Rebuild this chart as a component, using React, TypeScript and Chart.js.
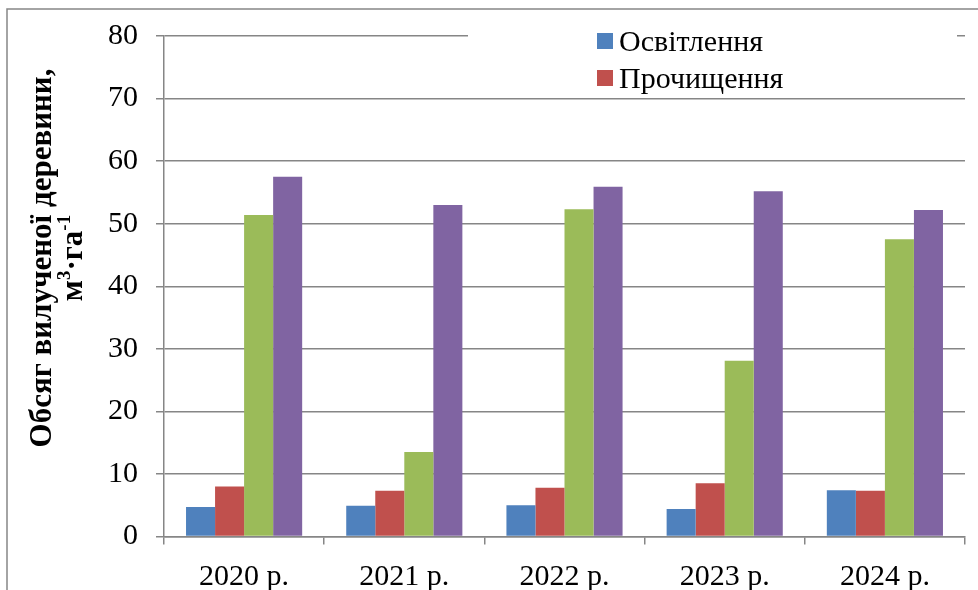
import React, { useEffect, useRef } from "react";
import { Chart, registerables } from "chart.js";

Chart.register(...registerables);

const categories = ["2020 р.", "2021 р.", "2022 р.", "2023 р.", "2024 р."];
const osvitlennya = [4.7, 4.9, 5.0, 4.4, 7.4];
const prochyshchennya = [8.0, 7.3, 7.8, 8.5, 7.3];
const proridzhuvannya = [51.4, 13.5, 52.3, 28.1, 47.5];
const prokhidni = [57.5, 53.0, 55.9, 55.2, 52.2];
const seriesNames = ["Освітлення", "Прочищення", "Проріджування", "Прохідні рубки"];
const seriesColors = ["#4F81BD", "#C0504D", "#9BBB59", "#8064A2"];
const legendShown = 2;
const yMin = 0;
const yMax = 80;
const yStep = 10;
const titleLine1 = "Обсяг вилученої деревини,";
const titleLine2Parts: [string, boolean][] = [["м", false], ["3", true], ["·га", false], ["-1", true]];

const FONT = "'Liberation Serif', 'Times New Roman', serif";
const FS = 30;
const GRID = "#868686";

const framePlugin = {
  id: "frame",
  beforeDraw(chart: any) {
    const ctx = chart.ctx;
    ctx.save();
    ctx.fillStyle = "#ffffff";
    ctx.fillRect(0, 0, chart.width, chart.height);
    ctx.restore();
  },
  afterDraw(chart: any) {
    const ctx = chart.ctx;
    ctx.save();
    ctx.strokeStyle = GRID;
    ctx.lineWidth = 1.5;
    ctx.strokeRect(7, 9, chart.width + 20, chart.height + 20);
    ctx.restore();
  },
};

const titlePlugin = {
  id: "ytitle",
  afterDraw(chart: any) {
    const ctx = chart.ctx;
    ctx.save();
    ctx.fillStyle = "#000";
    ctx.textBaseline = "middle";
    ctx.save();
    ctx.translate(43, 258);
    ctx.rotate(-Math.PI / 2);
    ctx.font = `bold 31px ${FONT}`;
    ctx.textAlign = "center";
    ctx.fillText(titleLine1, 0, 0);
    ctx.restore();
    ctx.save();
    ctx.translate(74, 258);
    ctx.rotate(-Math.PI / 2);
    ctx.textAlign = "left";
    const big = `bold 31px ${FONT}`;
    const small = `bold 19px ${FONT}`;
    let total = 0;
    for (const [t, sup] of titleLine2Parts) {
      ctx.font = sup ? small : big;
      total += ctx.measureText(t).width;
    }
    let x = -total / 2;
    for (const [t, sup] of titleLine2Parts) {
      ctx.font = sup ? small : big;
      ctx.fillText(t, x, sup ? -9 : 0);
      x += ctx.measureText(t).width;
    }
    ctx.restore();
    ctx.restore();
  },
};

const legendPlugin = {
  id: "customLegend",
  afterDatasetsDraw(chart: any) {
    const ctx = chart.ctx;
    ctx.save();
    ctx.fillStyle = "#ffffff";
    ctx.fillRect(468, 14, 489, 81);
    ctx.font = `${FS}px ${FONT}`;
    ctx.textBaseline = "middle";
    ctx.textAlign = "left";
    const ds = chart.data.datasets;
    for (let i = 0; i < legendShown; i++) {
      ctx.fillStyle = ds[i].backgroundColor;
      ctx.fillRect(597, 33 + i * 37, 16, 16);
      ctx.fillStyle = "#000";
      ctx.fillText(ds[i].label, 619, 43 + i * 37);
    }
    ctx.restore();
  },
};

export default function App() {
  const ref = useRef<HTMLCanvasElement>(null);
  useEffect(() => {
    document.body.style.margin = "0";
    const values = [osvitlennya, prochyshchennya, proridzhuvannya, prokhidni];
    const chart = new Chart(ref.current as HTMLCanvasElement, {
      type: "bar",
      data: {
        labels: categories,
        datasets: values.map((v, i) => ({
          label: seriesNames[i],
          data: v,
          backgroundColor: seriesColors[i],
          borderWidth: 0,
          categoryPercentage: 0.725,
          barPercentage: 1.0,
        })),
      },
      options: {
        responsive: false,
        animation: false,
        devicePixelRatio: 1,
        layout: { padding: { top: 29, right: 13, bottom: 0, left: 0 } },
        plugins: {
          legend: { display: false },
          tooltip: { enabled: false },
          title: { display: false },
        },
        scales: {
          x: {
            grid: {
              display: true,
              drawOnChartArea: false,
              drawTicks: true,
              tickLength: 8,
              color: GRID,
              lineWidth: 1.5,
              offset: true,
            },
            border: { display: true, color: GRID, width: 1.5 },
            ticks: {
              color: "#000",
              font: { family: FONT, size: FS },
              padding: 15,
              maxRotation: 0,
              autoSkip: false,
            },
            afterFit(scale: any) {
              scale.height = 53.5;
            },
          },
          y: {
            min: yMin,
            max: yMax,
            ticks: {
              stepSize: yStep,
              color: "#000",
              font: { family: FONT, size: FS },
              padding: 18,
            },
            grid: {
              color: GRID,
              lineWidth: 1.5,
              tickLength: 8,
              drawTicks: true,
            },
            border: { display: true, color: GRID, width: 1.5 },
            afterFit(scale: any) {
              scale.width = 164;
            },
          },
        },
      },
      plugins: [framePlugin, legendPlugin, titlePlugin],
    });
    return () => chart.destroy();
  }, []);
  return (
    <div style={{ width: 978, height: 590 }}>
      <canvas ref={ref} width={978} height={590} style={{ display: "block" }} />
    </div>
  );
}
